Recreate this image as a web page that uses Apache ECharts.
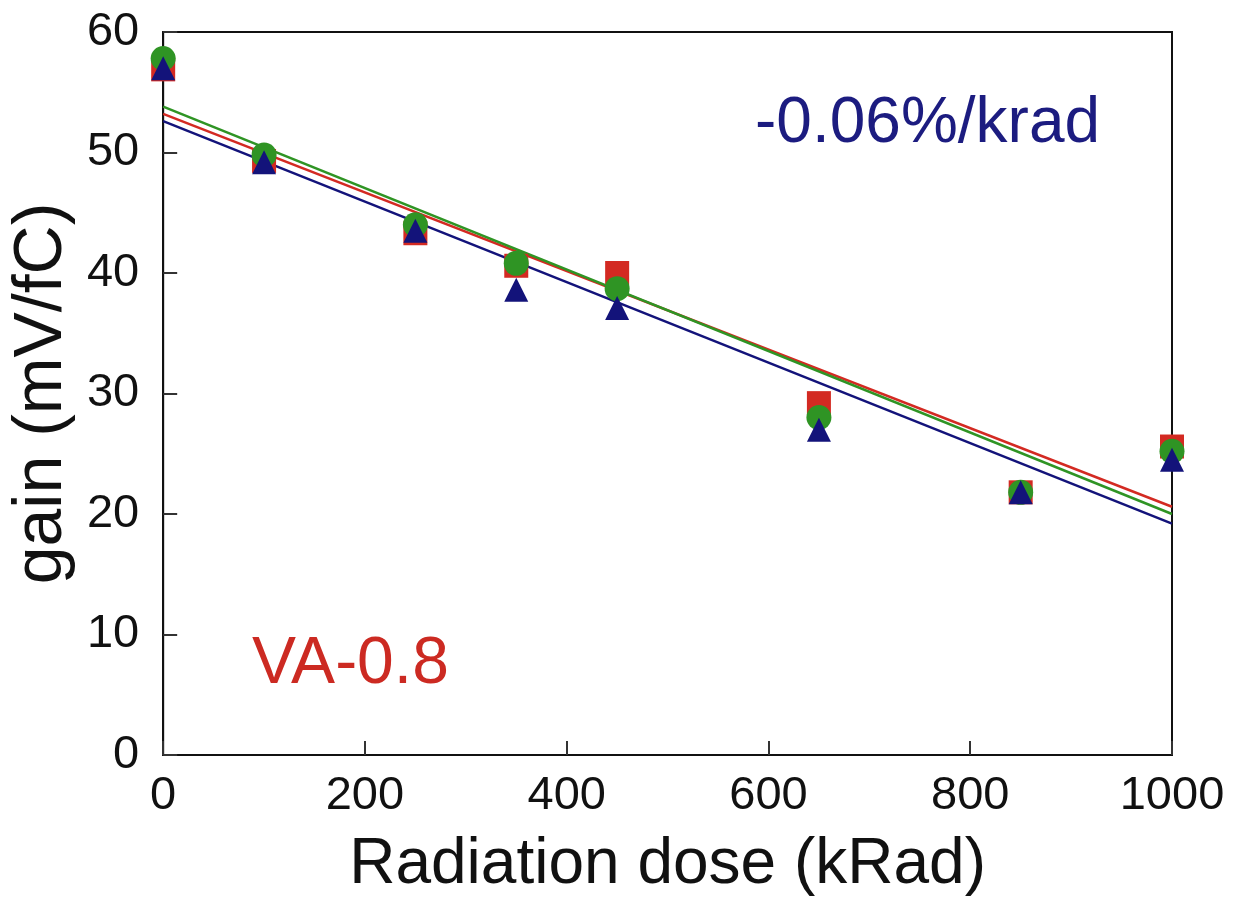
<!DOCTYPE html>
<html><head><meta charset="utf-8">
<script src="https://cdn.jsdelivr.net/npm/echarts@6/dist/echarts.min.js"></script>
<style>html,body{margin:0;padding:0;background:#fff}#c{width:1233px;height:902px}</style>
</head><body><div id="c"></div>
<script>
const doses = [0, 100, 250, 350, 450, 650, 850, 1000];
const redSquares = [56.9, 49.3, 43.3, 40.6, 40.0, 29.2, 21.8, 25.6];
const greenCircles = [57.8, 49.8, 44.0, 40.8, 38.7, 28.0, 21.8, 25.2];
const blueTriangles = [57.0, 49.2, 43.5, 38.6, 37.1, 27.0, 21.8, 24.5];
const fitX = [0, 1000];
const redFit = [53.2, 20.6];
const greenFit = [53.8, 20.0];
const blueFit = [52.6, 19.2];
const xTicks = [0, 200, 400, 600, 800, 1000];
const yTicks = [0, 10, 20, 30, 40, 50, 60];

const RED = '#d32a22', GREEN = '#2f9424', BLUE = '#13137a';
const pair = (xs, ys) => xs.map((x, i) => [x, ys[i]]);
const font = 'Liberation Sans, Arial, sans-serif';

const chart = echarts.init(document.getElementById('c'), null, {renderer: 'canvas'});
chart.setOption({
  animation: false,
  backgroundColor: '#fff',
  grid: {left: 161, right: 61, top: 32, bottom: 145, show: true, borderColor: '#111', borderWidth: 2},
  xAxis: {
    type: 'value', min: 0, max: 1000, interval: 200,
    axisLine: {show: true, lineStyle: {color: '#111', width: 2}},
    axisTick: {inside: true, length: 14, lineStyle: {color: '#333', width: 2}},
    axisLabel: {fontSize: 47, color: '#111', fontFamily: font, margin: 18,
      formatter: v => xTicks.includes(v) ? String(v) : ''},
    splitLine: {show: false},
    name: 'Radiation dose (kRad)', nameLocation: 'middle', nameGap: 78,
    nameTextStyle: {fontSize: 64, color: '#111', fontFamily: font}
  },
  yAxis: {
    type: 'value', min: 0, max: 60, interval: 10,
    axisLine: {show: true, lineStyle: {color: '#111', width: 2}},
    axisTick: {inside: true, length: 14, lineStyle: {color: '#333', width: 2}},
    axisLabel: {fontSize: 47, color: '#111', fontFamily: font, margin: 24,
      formatter: v => yTicks.includes(v) ? String(v) : ''},
    splitLine: {show: false},
    name: 'gain (mV/fC)', nameLocation: 'middle', nameGap: 74,
    nameTextStyle: {fontSize: 68, color: '#111', fontFamily: font}
  },
  series: [
    {type: 'line', data: pair(fitX, redFit), symbol: 'none', lineStyle: {color: RED, width: 2.5}, z: 2},
    {type: 'line', data: pair(fitX, greenFit), symbol: 'none', lineStyle: {color: GREEN, width: 2.5}, z: 2},
    {type: 'line', data: pair(fitX, blueFit), symbol: 'none', lineStyle: {color: BLUE, width: 2.5}, z: 2},
    {type: 'scatter', data: pair(doses, redSquares), symbol: 'rect', symbolSize: 24, itemStyle: {color: RED, opacity: 1}, z: 3},
    {type: 'scatter', data: pair(doses, greenCircles), symbol: 'circle', symbolSize: 25, itemStyle: {color: GREEN, opacity: 1}, z: 4},
    {type: 'scatter', data: pair(doses, blueTriangles), symbol: 'triangle', symbolSize: 24, itemStyle: {color: BLUE, opacity: 1}, z: 5}
  ],
  graphic: [
    {type: 'text', left: 755, top: 92, style: {text: '-0.06%/krad', fontSize: 64, fill: '#1c1c80', fontFamily: font}},
    {type: 'text', left: 252, top: 632, style: {text: 'VA-0.8', fontSize: 66, fill: '#cc2a22', fontFamily: font}}
  ]
});
</script></body></html>
